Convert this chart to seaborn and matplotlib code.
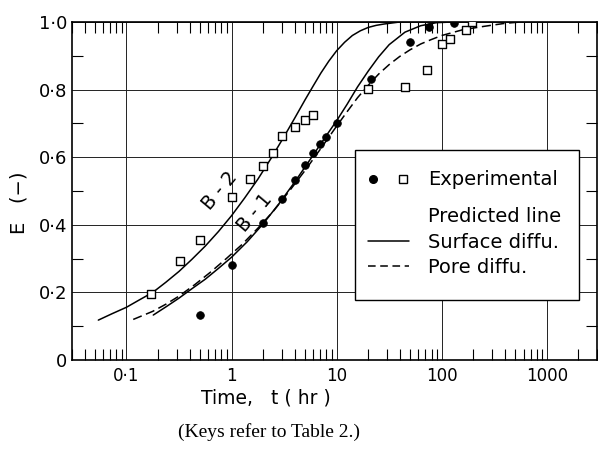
import numpy as np
import pandas as pd
import matplotlib
matplotlib.use("Agg")
import matplotlib.pyplot as plt
import seaborn as sns
from matplotlib.lines import Line2D
from matplotlib.patches import Rectangle
from matplotlib.legend_handler import HandlerTuple
from matplotlib.ticker import LogLocator, NullFormatter

# ---- data ----
t_b1_exp = [0.5, 1.0, 2.0, 3.0, 4.0, 5.0, 6.0, 7.0, 8.0, 10, 21, 50, 75, 130]
E_b1_exp = [0.134, 0.281, 0.404, 0.477, 0.532, 0.576, 0.612, 0.640, 0.661, 0.700,
            0.832, 0.942, 0.985, 0.998]

t_b2_exp = [0.17, 0.32, 0.5, 1.0, 1.5, 2.0, 2.5, 3.0, 4.0, 5.0, 6.0,
            20, 45, 73, 100, 120, 170, 195]
E_b2_exp = [0.194, 0.292, 0.356, 0.482, 0.536, 0.573, 0.612, 0.662, 0.688, 0.711, 0.725,
            0.803, 0.807, 0.858, 0.934, 0.951, 0.976, 0.999]

# predicted curves (surface diffusion: B-2 and B-1, pore diffusion: B-1)
t_b2_surf = [0.054, 0.073, 0.1, 0.133, 0.178, 0.237, 0.316, 0.42, 0.562, 0.75, 1.0,
             1.33, 1.78, 2.37, 3.16, 3.98, 5.01, 5.96, 7.08, 8.41, 10, 11.9, 14.1,
             16.8, 20, 23.7, 28.2, 39.8]
E_b2_surf = [0.118, 0.137, 0.156, 0.178, 0.200, 0.230, 0.262, 0.298, 0.337, 0.380, 0.427,
             0.479, 0.535, 0.596, 0.661, 0.715, 0.770, 0.810, 0.849, 0.884, 0.915, 0.940,
             0.960, 0.974, 0.984, 0.990, 0.994, 1.0]

t_b1_surf = [0.18, 0.237, 0.316, 0.42, 0.562, 0.75, 1.0, 1.41, 2.0, 2.82, 3.98, 5.62,
             7.94, 10, 12.6, 15.8, 20, 25.1, 31.6, 44.7, 63.1, 89.1, 126]
E_b1_surf = [0.133, 0.157, 0.183, 0.211, 0.239, 0.271, 0.304, 0.350, 0.403, 0.462, 0.526,
             0.594, 0.663, 0.708, 0.757, 0.808, 0.855, 0.897, 0.933, 0.970, 0.989, 0.998, 1.0]

t_b1_pore = [0.116, 0.178, 0.237, 0.316, 0.447, 0.631, 0.891, 1.26, 1.78, 2.51, 3.55, 5.01,
             7.08, 10, 12.6, 15.8, 20, 25.1, 31.6, 39.8, 50.1, 63.1, 79.4, 100, 158, 251,
             398, 562]
E_b1_pore = [0.120, 0.144, 0.165, 0.189, 0.223, 0.260, 0.300, 0.342, 0.390, 0.441, 0.500,
             0.561, 0.626, 0.692, 0.735, 0.776, 0.813, 0.846, 0.874, 0.898, 0.918, 0.935,
             0.948, 0.960, 0.977, 0.987, 0.996, 1.0]

x_ticks = [0.1, 1, 10, 100, 1000]
x_ticklabels = ["0·1", "1", "10", "100", "1000"]
y_ticks = [0, 0.2, 0.4, 0.6, 0.8, 1.0]
y_ticklabels = ["0", "0·2", "0·4", "0·6", "0·8", "1·0"]
y_minor = [0.1, 0.3, 0.5, 0.7, 0.9]

# ---- style ----
sns.set_style("white")
plt.rcParams['font.family'] = ['DejaVu Sans']
plt.rcParams.update({"text.color": "black", "axes.labelcolor": "black",
                     "xtick.color": "black", "ytick.color": "black"})

fig = plt.figure(figsize=(5.98, 4.5), dpi=100)
ax = fig.add_axes([71.5 / 598, 90 / 450, (597 - 71.5) / 598, 338 / 450])

# ---- curves ----
sns.lineplot(x=t_b2_surf, y=E_b2_surf, ax=ax, color="black", lw=1.1,
             sort=False, estimator=None, zorder=3)
sns.lineplot(x=t_b1_surf, y=E_b1_surf, ax=ax, color="black", lw=1.1,
             sort=False, estimator=None, zorder=3)
sns.lineplot(x=t_b1_pore, y=E_b1_pore, ax=ax, color="black", lw=1.1,
             linestyle=(0, (6, 3)), sort=False, estimator=None, zorder=3)

# ---- experimental points ----
sns.scatterplot(x=t_b1_exp, y=E_b1_exp, ax=ax, marker="o", s=30, color="black",
                edgecolor="black", linewidth=0.6, zorder=4)
sns.scatterplot(x=t_b2_exp, y=E_b2_exp, ax=ax, marker="s", s=36, color="white",
                edgecolor="black", linewidth=1.0, zorder=4)

# ---- axes ----
ax.set_xscale("log")
ax.set_xlim(0.03, 3000)
ax.set_ylim(0, 1.0)
ax.set_xticks(x_ticks, labels=x_ticklabels)
ax.xaxis.set_minor_locator(LogLocator(base=10, subs=np.arange(2, 10), numticks=30))
ax.xaxis.set_minor_formatter(NullFormatter())
ax.set_yticks(y_ticks, labels=y_ticklabels)
ax.set_yticks(y_minor, minor=True)

ax.tick_params(which="major", length=0, labelcolor="black")
ax.tick_params(axis="y", which="major", pad=3, labelsize=13)
ax.tick_params(axis="x", which="major", pad=5, labelsize=12)
ax.tick_params(which="minor", direction="in", length=8, width=0.8,
               top=True, right=True, bottom=True, left=True, color="black")

ax.grid(True, which="major", color="#222222", lw=0.7)
ax.set_axisbelow(True)
for sp in ax.spines.values():
    sp.set_color("black")
    sp.set_linewidth(1.2)
    sp.set_visible(True)

ax.set_xlabel("Time,   t ( hr )", fontsize=13.5, color="black")
ax.xaxis.set_label_coords(0.37, -0.085)
ax.set_ylabel("E   (\u2212)", fontsize=14, color="black")
ax.yaxis.set_label_coords(-0.081, 0.465)

# ---- curve labels ----
ax.text(0.78, 0.50, "B - 2", rotation=50, ha="center", va="center", fontsize=13.5,
        rotation_mode="anchor", color="black")
ax.text(1.68, 0.435, "B - 1", rotation=50, ha="center", va="center", fontsize=13.5,
        rotation_mode="anchor", color="black")

# ---- legend (frame + two frameless legends) ----
frame = Rectangle((0.5395, 0.1775), 0.4263, 0.4438, transform=ax.transAxes,
                  facecolor="white", edgecolor="black", lw=1.0, zorder=5)
ax.add_patch(frame)

h_exp = (Line2D([], [], marker="o", color="black", ls="none", ms=5.5),
         Line2D([], [], marker="s", mfc="white", mec="black", ls="none", ms=5.5, mew=1.0))
h_blank = Line2D([], [], ls="none")
h_surf = Line2D([], [], color="black", lw=1.1)
h_pore = Line2D([], [], color="black", lw=1.1, ls=(0, (5, 3)))

common = dict(loc="upper left", borderaxespad=0, borderpad=0, frameon=False,
              fontsize=14, handlelength=2.1, handletextpad=1.0, labelcolor="black")
leg1 = ax.legend([h_exp], ["Experimental"],
                 handler_map={tuple: HandlerTuple(ndivide=None, pad=1.0)},
                 bbox_to_anchor=(0.5642, 0.561), **common)
leg1.set_zorder(6)
ax.add_artist(leg1)
leg2 = ax.legend([h_blank, h_surf, h_pore],
                 ["Predicted line", "Surface diffu.", "Pore diffu."],
                 bbox_to_anchor=(0.5642, 0.4515), labelspacing=0.325, **common)
leg2.set_zorder(6)

# ---- caption ----
fig.text(0.449, 0.04, "(Keys refer to Table 2.)", family=["Liberation Serif"],
         fontsize=14, ha="center", va="center", color="black")

fig.savefig("out.png", dpi=100)
